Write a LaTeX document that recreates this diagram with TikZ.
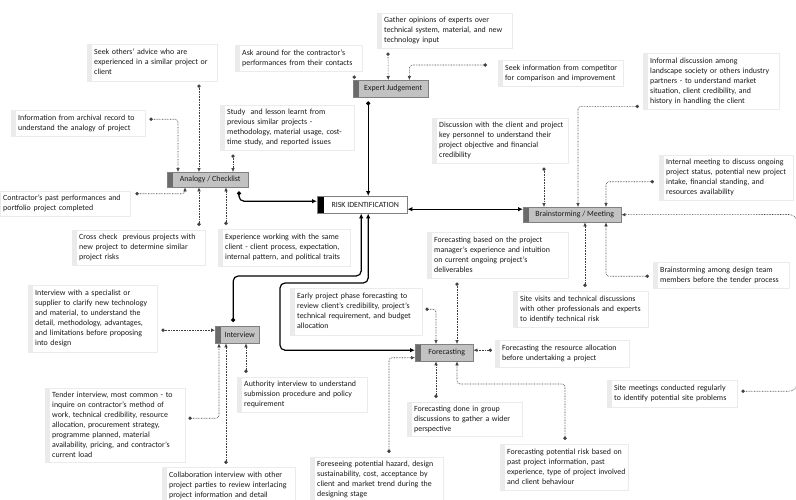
\documentclass[tikz,border=0pt]{standalone}
\usepackage{fontspec}
\setmainfont{Carlito}
\usetikzlibrary{arrows.meta}
\newcommand{\notefont}{\fontsize{7.9}{10}\selectfont}
\newcommand{\notelines}[1]{\begin{tabular}{@{}l@{}}#1\end{tabular}}

\begin{document}
\begin{tikzpicture}[x=1pt, y=-1pt,
	note/.style={draw=black!8, fill=white, anchor=north west, align=left, text width=#1,
		inner xsep=7pt, inner ysep=2pt, font=\notefont, text=black!90,
		path picture={\fill[black!8] (path picture bounding box.north west) rectangle ([xshift=5pt]path picture bounding box.south west);}},
	cat/.style={draw=black!50, fill=black!24, anchor=north west, inner sep=0pt, font=\notefont, text=black!90,
		execute at begin node={\hspace*{5pt}},
		path picture={\fill[black!58] (path picture bounding box.north west) rectangle ([xshift=6pt]path picture bounding box.south west);}},
	riskbox/.style={draw=black!50, fill=white, anchor=north west, inner sep=0pt, font=\notefont, text=black!90,
		execute at begin node={\hspace*{6pt}},
		path picture={\fill[black] (path picture bounding box.north west) rectangle ([xshift=7pt]path picture bounding box.south west);}},
	link/.style={draw=black!75, line width=0.6pt, dash pattern=on 0.7pt off 0.9pt, rounded corners=3pt,
		{Circle[length=3.4pt]}-{Latex[length=4pt,width=3.6pt]}},
	flow/.style={draw=black, line width=1.2pt, rounded corners=5pt,
		{Circle[length=4pt]}-{Latex[length=5pt,width=4.5pt]}},
	flowboth/.style={flow, {Latex[length=5pt,width=4.5pt]}-{Latex[length=5pt,width=4.5pt]}}]
	\useasboundingbox (0,0) rectangle (796,499);

	\node[cat, minimum width=75pt, minimum height=17pt] (exp) at (353,80) {Expert Judgement};
	\node[cat, minimum width=81pt, minimum height=15pt] (analogy) at (167,172) {Analogy / Checklist};
	\node[riskbox, minimum width=90pt, minimum height=17pt] (risk) at (317,196) {RISK IDENTIFICATION};
	\node[cat, minimum width=98pt, minimum height=15pt] (brain) at (523,207) {Brainstorming / Meeting};
	\node[cat, minimum width=44pt, minimum height=17pt] (interview) at (215,326) {Interview};
	\node[cat, minimum width=58pt, minimum height=17pt] (forecast) at (415,344) {Forecasting};

	\node[note=116pt, minimum height=37pt] (seekadv) at (87,44) {\notelines{Seek others' advice who are\\ experienced in a similar project or\\ client}};
	\node[note=120pt, minimum height=26pt] (archive) at (11,110) {\notelines{Information from archival record to\\ understand the analogy of project}};
	\node[note=113pt, minimum height=26pt] (ask) at (235,45) {\notelines{Ask around for the contractor's\\ performances from their contacts}};
	\node[note=120pt, minimum height=45pt] (study) at (220,105) {\notelines{Study\ \ and lesson learnt from\\ previous similar projects -\\ methodology, material usage, cost-\\ time study, and reported issues}};
	\node[note=121pt, minimum height=35pt] (gather) at (377,13) {\notelines{Gather opinions of experts over\\ technical system, material, and new\\ technology input}};
	\node[note=111pt, minimum height=26pt] (seekinfo) at (498,60) {\notelines{Seek information from competitor\\ for comparison and improvement}};
	\node[note=122pt, minimum height=56pt] (informal) at (643,53) {\notelines{Informal discussion among\\ landscape society or others industry\\ partners - to understand market\\ situation, client credibility, and\\ history in handling the client}};
	\node[note=122pt, minimum height=45pt] (discuss) at (432,118) {\notelines{Discussion with the client and project\\ key personnel to understand their\\ project objective and financial\\ credibility}};
	\node[note=120pt, minimum height=45pt] (internal) at (659,155) {\notelines{Internal meeting to discuss ongoing\\ project status, potential new project\\ intake, financial standing, and\\ resources availability}};
	\node[note=120pt, minimum height=25pt] (pastperf) at (-4,191) {\notelines{Contractor's past performances and\\ portfolio project completed}};
	\node[note=119pt, minimum height=35pt] (cross) at (72,230) {\notelines{Cross check\ \ previous projects with\\ new project to determine similar\\ project risks}};
	\node[note=118pt, minimum height=37pt] (experience) at (218,229) {\notelines{Experience working with the same\\ client - client process, expectation,\\ internal pattern, and political traits}};
	\node[note=127pt, minimum height=46pt] (fcbased) at (427,232) {\notelines{Forecasting based on the project\\ manager's experience and intuition\\ on current ongoing project's\\ deliverables}};
	\node[note=121pt, minimum height=36pt] (sitevisit) at (513,291) {\notelines{Site visits and technical discussions\\ with other professionals and experts\\ to identify technical risk}};
	\node[note=122pt, minimum height=26pt] (brainteam) at (653,262) {\notelines{Brainstorming among design team\\ members before the tender process}};
	\node[note=115pt, minimum height=67pt] (specialist) at (28,285) {\notelines{Interview with a specialist or\\ supplier to clarify new technology\\ and material, to understand the\\ detail, methodology, advantages,\\ and limitations before proposing\\ into design}};
	\node[note=118pt, minimum height=47pt] (early) at (290,288) {\notelines{Early project phase forecasting to\\ review client's credibility, project's\\ technical requirement, and budget\\ allocation}};
	\node[note=120pt, minimum height=27pt] (resource) at (495,340) {\notelines{Forecasting the resource allocation\\ before undertaking a project}};
	\node[note=116pt, minimum height=35pt] (authority) at (237,377) {\notelines{Authority interview to understand\\ submission procedure and policy\\ requirement}};
	\node[note=126pt, minimum height=74pt] (tender) at (45,388) {\notelines{Tender interview, most common - to\\ inquire on contractor's method of\\ work, technical credibility, resource\\ allocation, procurement strategy,\\ programme planned, material\\ availability, pricing, and contractor's\\ current load}};
	\node[note=119pt, minimum height=36pt] (collab) at (162,467) {\notelines{Collaboration interview with other\\ project parties to review interlacing\\ project information and detail}};
	\node[note=101pt, minimum height=33pt] (group) at (407,402) {\notelines{Forecasting done in group\\ discussions to gather a wider\\ perspective}};
	\node[note=119pt, minimum height=45pt] (foresee) at (310,457) {\notelines{Foreseeing potential hazard, design\\ sustainability, cost, acceptance by\\ client and market trend during the\\ designing stage}};
	\node[note=114pt, minimum height=46pt] (fcrisk) at (500,444) {\notelines{Forecasting potential risk based on\\ past project information, past\\ experience, type of project involved\\ and client behaviour}};
	\node[note=116pt, minimum height=27pt] (sitemeet) at (607,380) {\notelines{Site meetings conducted regularly\\ to identify potential site problems}};

	\coordinate (redge) at (797,214.5);
	\coordinate (bendI) at (300,276);
	\coordinate (bendF) at (280,283);
	\coordinate (bendR) at (510,384);

	\draw[link, {Circle[length=3.4pt]}-] ([xshift=-8pt,yshift=-4pt]ask.south east) -- ([xshift=1pt]exp.north west);
	\draw[link] ([xshift=11pt,yshift=-4pt]gather.south west) -- ([xshift=-2.5pt]exp.north);
	\draw[link] ([xshift=-11pt,yshift=-5pt]seekinfo.north west) -| ([xshift=-19pt]exp.north east);
	\draw[flow] ([xshift=-22.5pt,yshift=-4pt]exp.south) -- ([xshift=6pt]risk.north);

	\draw[link] ([xshift=112pt,yshift=-3pt]seekadv.south west) -- ([xshift=32pt]analogy.north west);
	\draw[link] ([xshift=4pt,yshift=4pt]archive.east) -| ([xshift=11pt]analogy.north west);
	\draw[link] ([xshift=13pt,yshift=-4pt]study.south west) -- ([xshift=66pt]analogy.north west);
	\draw[link] ([xshift=5pt,yshift=10pt]pastperf.east) -| ([xshift=18pt]analogy.south west);
	\draw[link] ([xshift=127pt,yshift=4pt]cross.north west) -- ([xshift=32pt]analogy.south west);
	\draw[link] ([xshift=8pt,yshift=4pt]experience.north west) -- ([xshift=59pt]analogy.south west);
	\draw[flow] ([xshift=72pt,yshift=-4pt]analogy.south west) |- ([yshift=3.5pt]risk.west);

	\draw[flowboth] ([yshift=-4.5pt]risk.east) -- ([yshift=5.5pt]brain.west);
	\draw[link] ([xshift=112pt,yshift=-4pt]discuss.south west) -- ([xshift=21pt]brain.north west);
	\draw[link] ([xshift=-4pt,yshift=3pt]informal.south west) -| ([xshift=55pt]brain.north west);
	\draw[link] ([xshift=-5pt,yshift=-4pt]internal.west) -| ([xshift=83pt]brain.north west);
	\draw[link] ([xshift=72pt,yshift=4pt]sitevisit.north west) -- ([xshift=62pt]brain.south west);
	\draw[link] ([xshift=-4pt,yshift=-1pt]brainteam.west) -| ([xshift=83pt]brain.south west);
	\draw[link, rounded corners=8pt] ([xshift=4pt,yshift=2.5pt]sitemeet.east) -| (redge) -- (brain.east);

	\draw[link] ([xshift=4pt,yshift=-11.5pt]specialist.east) -- ([yshift=4.5pt]interview.west);
	\draw[link] ([xshift=3pt,yshift=7pt]tender.east) -| ([xshift=4pt]interview.south west);
	\draw[link] ([xshift=64pt,yshift=3pt]collab.north west) -- ([xshift=11pt]interview.south west);
	\draw[link] ([xshift=9pt,yshift=4pt]authority.north west) -- ([xshift=31pt]interview.south west);
	\draw[flow] ([xshift=-4pt,yshift=4pt]interview.north) |- (bendI) -| ([xshift=-1pt]risk.south);

	\draw[flowboth] ([xshift=6pt]risk.south) |- (bendF) |- ([yshift=2.5pt]forecast.west);
	\draw[link] ([xshift=3pt,yshift=2.5pt]early.east) -| ([xshift=21pt]forecast.north west);
	\draw[link] ([xshift=30pt,yshift=-4pt]fcbased.south west) -- ([xshift=42pt]forecast.north west);
	\draw[link] ([xshift=-3pt,yshift=3.5pt]resource.west) -- ([yshift=2.5pt]forecast.east);
	\draw[link] ([xshift=79pt,yshift=4pt]foresee.north west) |- ([yshift=-5pt]forecast.west);
	\draw[link] ([xshift=29pt,yshift=4pt]group.north west) -- ([xshift=21pt]forecast.south west);
	\draw[link] ([xshift=65pt,yshift=4pt]fcrisk.north west) |- (bendR) -| ([xshift=42pt]forecast.south west);
\end{tikzpicture}
\end{document}
